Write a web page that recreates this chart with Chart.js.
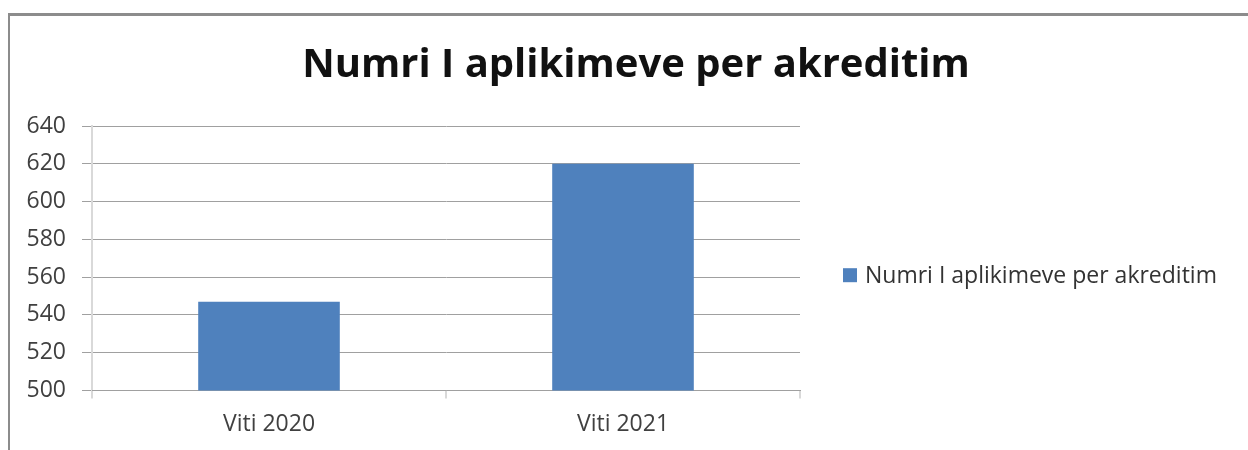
<!DOCTYPE html>
<html>
<head>
<meta charset="utf-8">
<script src="https://cdn.jsdelivr.net/npm/chart.js@4"></script>
<style>
  html, body { margin: 0; background: #fff; overflow: hidden; }
  #wrap {
    position: relative;
    margin-left: 8px;
    margin-top: 13px;
    width: 1252px;
    height: 434px;
    border-top: 3px solid #8c8c8c;
    border-left: 2px solid #8c8c8c;
  }
</style>
</head>
<body>
<div id="wrap"><canvas id="chart"></canvas></div>
<script>
const categories = ['Viti 2020', 'Viti 2021'];
const seriesName = 'Numri I aplikimeve per akreditim';
const applications = [547, 620];
const yMin = 500, yMax = 640, yStep = 20;

const font = "'Open Sans', sans-serif";
Chart.defaults.font.family = font;

// legend on the right, drawn by hand (the built-in one gets clipped at this width)
const legendPlugin = {
  id: 'sideLegend',
  afterDraw(chart) {
    const {ctx, chartArea} = chart;
    const box = 14;
    let y = (chartArea.top + chartArea.bottom) / 2 + 17;
    const x = chartArea.right + 43;
    ctx.save();
    ctx.font = '23px ' + font;
    ctx.textBaseline = 'middle';
    chart.data.datasets.forEach(ds => {
      ctx.fillStyle = ds.backgroundColor;
      ctx.fillRect(x, y - box / 2, box, box);
      ctx.fillStyle = '#333';
      ctx.fillText(ds.label, x + box + 8, y + 1);
      y += 30;
    });
    ctx.restore();
  }
};

const data = {
  labels: categories,
  datasets: [
    {
      label: seriesName,
      data: applications,
      backgroundColor: '#4f81bd',
      borderWidth: 0,
      barPercentage: 1,
      categoryPercentage: 0.4
    }
  ]
};

const config = {
  type: 'bar',
  data: data,
  options: {
    responsive: true,
    maintainAspectRatio: false,
    animation: false,
    layout: {
      padding: 0
    },
    scales: {
      y: {
        min: yMin,
        max: yMax,
        afterFit: function(scale) { scale.width = 82; },
        ticks: {
          stepSize: yStep,
          padding: 16,
          color: '#404040',
          font: { size: 23 }
        },
        grid: {
          color: '#a0a0a0',
          lineWidth: 1,
          tickLength: 10
        },
        border: { color: '#d9d9d9', width: 2 }
      },
      // empty axis that just reserves the room for the legend
      side: {
        position: 'right',
        afterFit: function(scale) { scale.width = 462; },
        ticks: { display: false },
        grid: { display: false },
        border: { display: false }
      },
      x: {
        ticks: {
          padding: 12,
          color: '#404040',
          font: { size: 23 }
        },
        grid: {
          drawOnChartArea: false,
          offset: true,
          tickLength: 8,
          color: '#d9d9d9',
          lineWidth: 2
        },
        border: { color: '#a0a0a0', width: 1 }
      }
    },
    plugins: {
      title: {
        display: true,
        text: seriesName,
        color: '#111',
        font: { size: 40, weight: 'bold' },
        padding: { top: 26, bottom: 36 }
      },
      legend: { display: false },
      tooltip: { enabled: false }
    }
  },
  plugins: [legendPlugin]
};

new Chart('chart', config);
</script>
</body>
</html>
